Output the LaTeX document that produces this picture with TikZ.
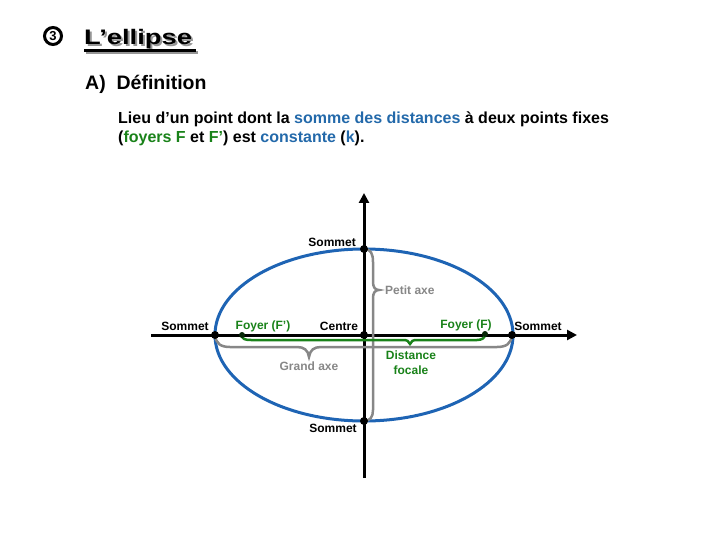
\documentclass[tikz,border=0pt]{standalone}
\usepackage{fontspec}
\setmainfont{Liberation Sans}
\usetikzlibrary{arrows.meta}
\definecolor{ellblue}{RGB}{30,100,180}
\definecolor{txtblue}{RGB}{35,105,170}
\definecolor{fgreen}{RGB}{25,130,25}
\definecolor{bgray}{RGB}{135,135,135}
\definecolor{shadowgray}{RGB}{150,150,150}
\begin{document}
\begin{tikzpicture}[x=1pt,y=-1pt,
  lab/.style={font=\fontsize{12}{14}\selectfont\bfseries, inner sep=0pt},
  dot/.style={circle, fill=black, minimum size=8pt, inner sep=0pt},
  fdot/.style={circle, fill=black!70!fgreen, minimum size=6pt, inner sep=0pt},
  axis/.style={line width=3pt, -{Triangle[length=10pt,width=10pt]}},
  gbrace/.style={bgray, line width=2.5pt},
  vbrace/.style={fgreen, line width=2.5pt},
  para/.style={font=\fontsize{16}{19}\selectfont\bfseries, inner sep=0pt, anchor=base west}]
\useasboundingbox (0,0) rectangle (720,540);

% title
\node[circle, draw, line width=3pt, minimum size=17pt, inner sep=0pt,
  font=\fontsize{13}{13}\selectfont\bfseries] (num) at (53,36) {3};
\node[inner sep=0pt, anchor=base west, text=shadowgray,
  font=\fontsize{21}{21}\selectfont\bfseries] (titleshadow) at (86,47) {\scalebox{1.3}[1]{L’ellipse}};
\node[inner sep=0pt, anchor=base west,
  font=\fontsize{21}{21}\selectfont\bfseries] (title) at (84,45) {\scalebox{1.3}[1]{L’ellipse}};
\draw[shadowgray, line width=2.5pt] (titleshadow.base west) ++(0,5.5) -- ++(112,0);
\draw[black, line width=2.5pt] (title.base west) ++(0,5.5) -- ++(112,0);

\node[inner sep=0pt, anchor=base west, font=\fontsize{19.5}{20}\selectfont\bfseries]
  (sub) at (85,90) {A)\ \ Définition};

\node[para] (p1) at (118,124) {Lieu d’un point dont la \textcolor{txtblue}{somme des distances} à deux points fixes};
\node[para] (p2) at (118,143) {(\textcolor{fgreen}{foyers F} et \textcolor{fgreen}{F’}) est \textcolor{txtblue}{constante} (\textcolor{txtblue}{k}).};

% ellipse
\draw[ellblue, line width=3pt] (364,335) ellipse [x radius=149, y radius=86];

% axes
\coordinate (xl) at (151,335);
\coordinate (xr) at (577,335);
\coordinate (yb) at (364,478);
\coordinate (yt) at (364,193);
\draw[axis] (xl) -- (xr);
\draw[axis] (yb) -- (yt);

% points
\coordinate (top) at (364,249);
\coordinate (bot) at (364,421);
\coordinate (lft) at (215,335);
\coordinate (rgt) at (512,335);
\coordinate (ctr) at (364,335);
\coordinate (fp) at (242,335);
\coordinate (f) at (485,334);

% petit axe brace
\draw[gbrace] (top) .. controls (371,249) and (373,254) .. (373,262)
  -- (373,282) .. controls (373,287) and (375,290) .. (379,290)
  .. controls (375,290) and (373,293) .. (373,298)
  -- (373,410) .. controls (373,417) and (370,421) .. (bot);
% grand axe brace
\draw[gbrace] (lft) .. controls (216,344) and (221,347) .. (230,347)
  -- (297,347) .. controls (304,347) and (308,350) .. (309,357)
  .. controls (310,350) and (314,347) .. (321,347)
  -- (497,347) .. controls (506,347) and (511,344) .. (rgt);
% distance focale brace
\draw[vbrace] (fp) .. controls (242,339) and (245,340) .. (251,340)
  -- (403,340) .. controls (407,340) and (409,341) .. (410,344)
  .. controls (411,341) and (413,340) .. (417,340)
  -- (477,340) .. controls (482,340) and (485,338) .. (f);

\node[dot] (ntop) at (top) {};
\node[dot] (nbot) at (bot) {};
\node[dot] (nlft) at (lft) {};
\node[dot] (nrgt) at (rgt) {};
\node[dot] (nctr) at (ctr) {};
\node[fdot] (nfp) at (fp) {};
\node[fdot] (nf) at (f) {};

% labels
\node[lab, anchor=base east] (ltop) at (356,246.5) {Sommet};
\node[lab, anchor=base west, text=bgray] (lpetit) at (385,294.5) {Petit axe};
\node[lab, anchor=base] (llft) at (185,330.5) {Sommet};
\node[lab, anchor=base, text=fgreen] (lfp) at (263,329) {Foyer (F’)};
\node[lab, anchor=base] (lctr) at (339,330.5) {Centre};
\node[lab, anchor=base, text=fgreen] (lf) at (466,328) {Foyer (F)};
\node[lab, anchor=base] (lrgt) at (538,330.5) {Sommet};
\node[lab, anchor=base, text=bgray] (lgrand) at (309,370.5) {Grand axe};
\node[lab, anchor=base, text=fgreen] (ldist) at (411,359.5) {Distance};
\node[lab, anchor=base, text=fgreen] (lfoc) at (411,374.5) {focale};
\node[lab, anchor=base] (lbot) at (333,432.5) {Sommet};
\end{tikzpicture}
\end{document}
